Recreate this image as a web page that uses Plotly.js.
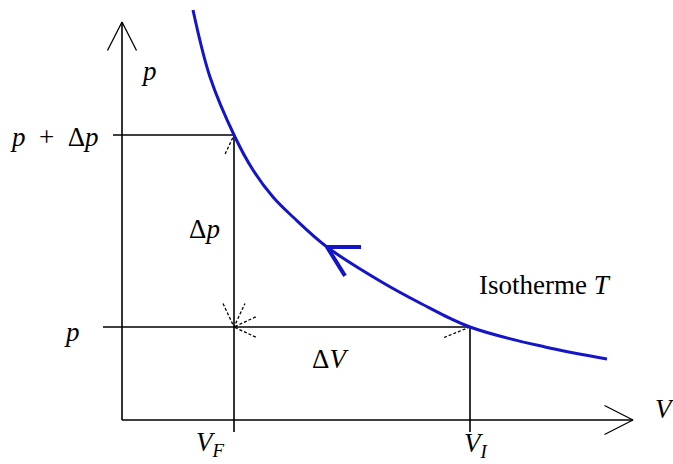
<!DOCTYPE html>
<html>
<head>
<meta charset="utf-8">
<script src="https://cdn.plot.ly/plotly-3.0.1.min.js"></script>
<style>
  html, body { margin: 0; padding: 0; background: #ffffff; }
  #chart { width: 673px; height: 464px; }
</style>
</head>
<body>
<div id="chart"></div>
<script>
// isotherm (V, p in drawing units, origin at the axes corner)
var curve_V = [71, 88, 113, 131, 151, 171, 205, 258, 298, 348, 423, 485];
var curve_p = [410, 343, 283, 250, 223, 203, 173, 139, 117, 93, 73, 61];
var arrow_at = 6;   // index of the point where the direction arrow sits

// the two states
var V_F = 112;
var V_I = 348;
var p_low = 93;
var p_high = 285;

// axis extents
var V_max = 511;
var p_max = 398;

var black = '#000000';
var blue = '#1414c8';

// arrow head: two arms ending at the tip, back = direction the arms point to
function head(tipX, tipY, back, len, half) {
    var a1 = (back + half) * Math.PI / 180;
    var a2 = (back - half) * Math.PI / 180;
    return {
        x: [tipX + len * Math.cos(a1), tipX, tipX + len * Math.cos(a2)],
        y: [tipY + len * Math.sin(a1), tipY, tipY + len * Math.sin(a2)]
    };
}

function seg(x, y, color, width, dash, shape) {
    return {
        x: x, y: y, type: 'scatter', mode: 'lines', hoverinfo: 'skip',
        line: {color: color, width: width, dash: dash || 'solid', shape: shape || 'linear'},
        showlegend: false
    };
}

var traces = [];
// axes
traces.push(seg([0, 0], [0, p_max], black, 1.6));
traces.push(seg([0, V_max], [0, 0], black, 1.6));
var h = head(0, p_max, -90, 32, 27);
traces.push(seg(h.x, h.y, black, 1.3));
h = head(V_max, 0, 180, 32, 27);
traces.push(seg(h.x, h.y, black, 1.3));

// guide lines
traces.push(seg([-9, V_F], [p_high, p_high], black, 1.6));
traces.push(seg([-19, V_I], [p_low, p_low], black, 1.6));
traces.push(seg([V_F, V_F], [-12, p_high], black, 1.6));
traces.push(seg([V_I, V_I], [-12, p_low], black, 1.6));

// dashed heads of the delta arrows
h = head(V_F, p_low, 90, 26, 25);
traces.push(seg(h.x, h.y, black, 1.3, '3px,2px'));
h = head(V_F, p_high, -90, 22, 25);
traces.push(seg(h.x, h.y, black, 1.3, '3px,2px'));
h = head(V_F, p_low, 0, 24, 25);
traces.push(seg(h.x, h.y, black, 1.3, '3px,2px'));
h = head(V_I, p_low, 180, 28, 22);
traces.push(seg(h.x, h.y, black, 1.3, '3px,2px'));

// isotherm
traces.push(seg(curve_V, curve_p, blue, 3, 'solid', 'spline'));
h = head(curve_V[arrow_at], curve_p[arrow_at], -29, 34, 29);
traces.push(seg(h.x, h.y, blue, 4));

var serif = {family: 'Liberation Serif, Times New Roman, serif', size: 27, color: black};

function label(txt, x, y, xanchor) {
    return {
        text: txt, x: x, y: y, xref: 'x', yref: 'y',
        showarrow: false, xanchor: xanchor || 'center', yanchor: 'middle',
        font: serif
    };
}

var layout = {
    width: 673,
    height: 464,
    margin: {l: 0, r: 0, t: 0, b: 0},
    paper_bgcolor: '#ffffff',
    plot_bgcolor: '#ffffff',
    showlegend: false,
    xaxis: {range: [-122, 551], visible: false, fixedrange: true},
    yaxis: {range: [-44, 420], visible: false, fixedrange: true},
    annotations: [
        label('<i>p</i>', 27, 349),
        label('<i>p</i>  +  Δ<i>p</i>', -21, 283, 'right'),
        label('Δ<i>p</i>', 82, 191),
        label('<i>p</i>', -50, 88),
        label('Δ<i>V</i>', 208, 61),
        label('<i>V</i><sub><i>F</i></sub>', 88, -24),
        label('<i>V</i><sub><i>I</i></sub>', 354, -25),
        label('<i>V</i>', 543, 11),
        label('Isotherme <i>T</i>', 355, 135, 'left')
    ]
};

Plotly.newPlot('chart', traces, layout, {displayModeBar: false, staticPlot: true});
</script>
</body>
</html>
